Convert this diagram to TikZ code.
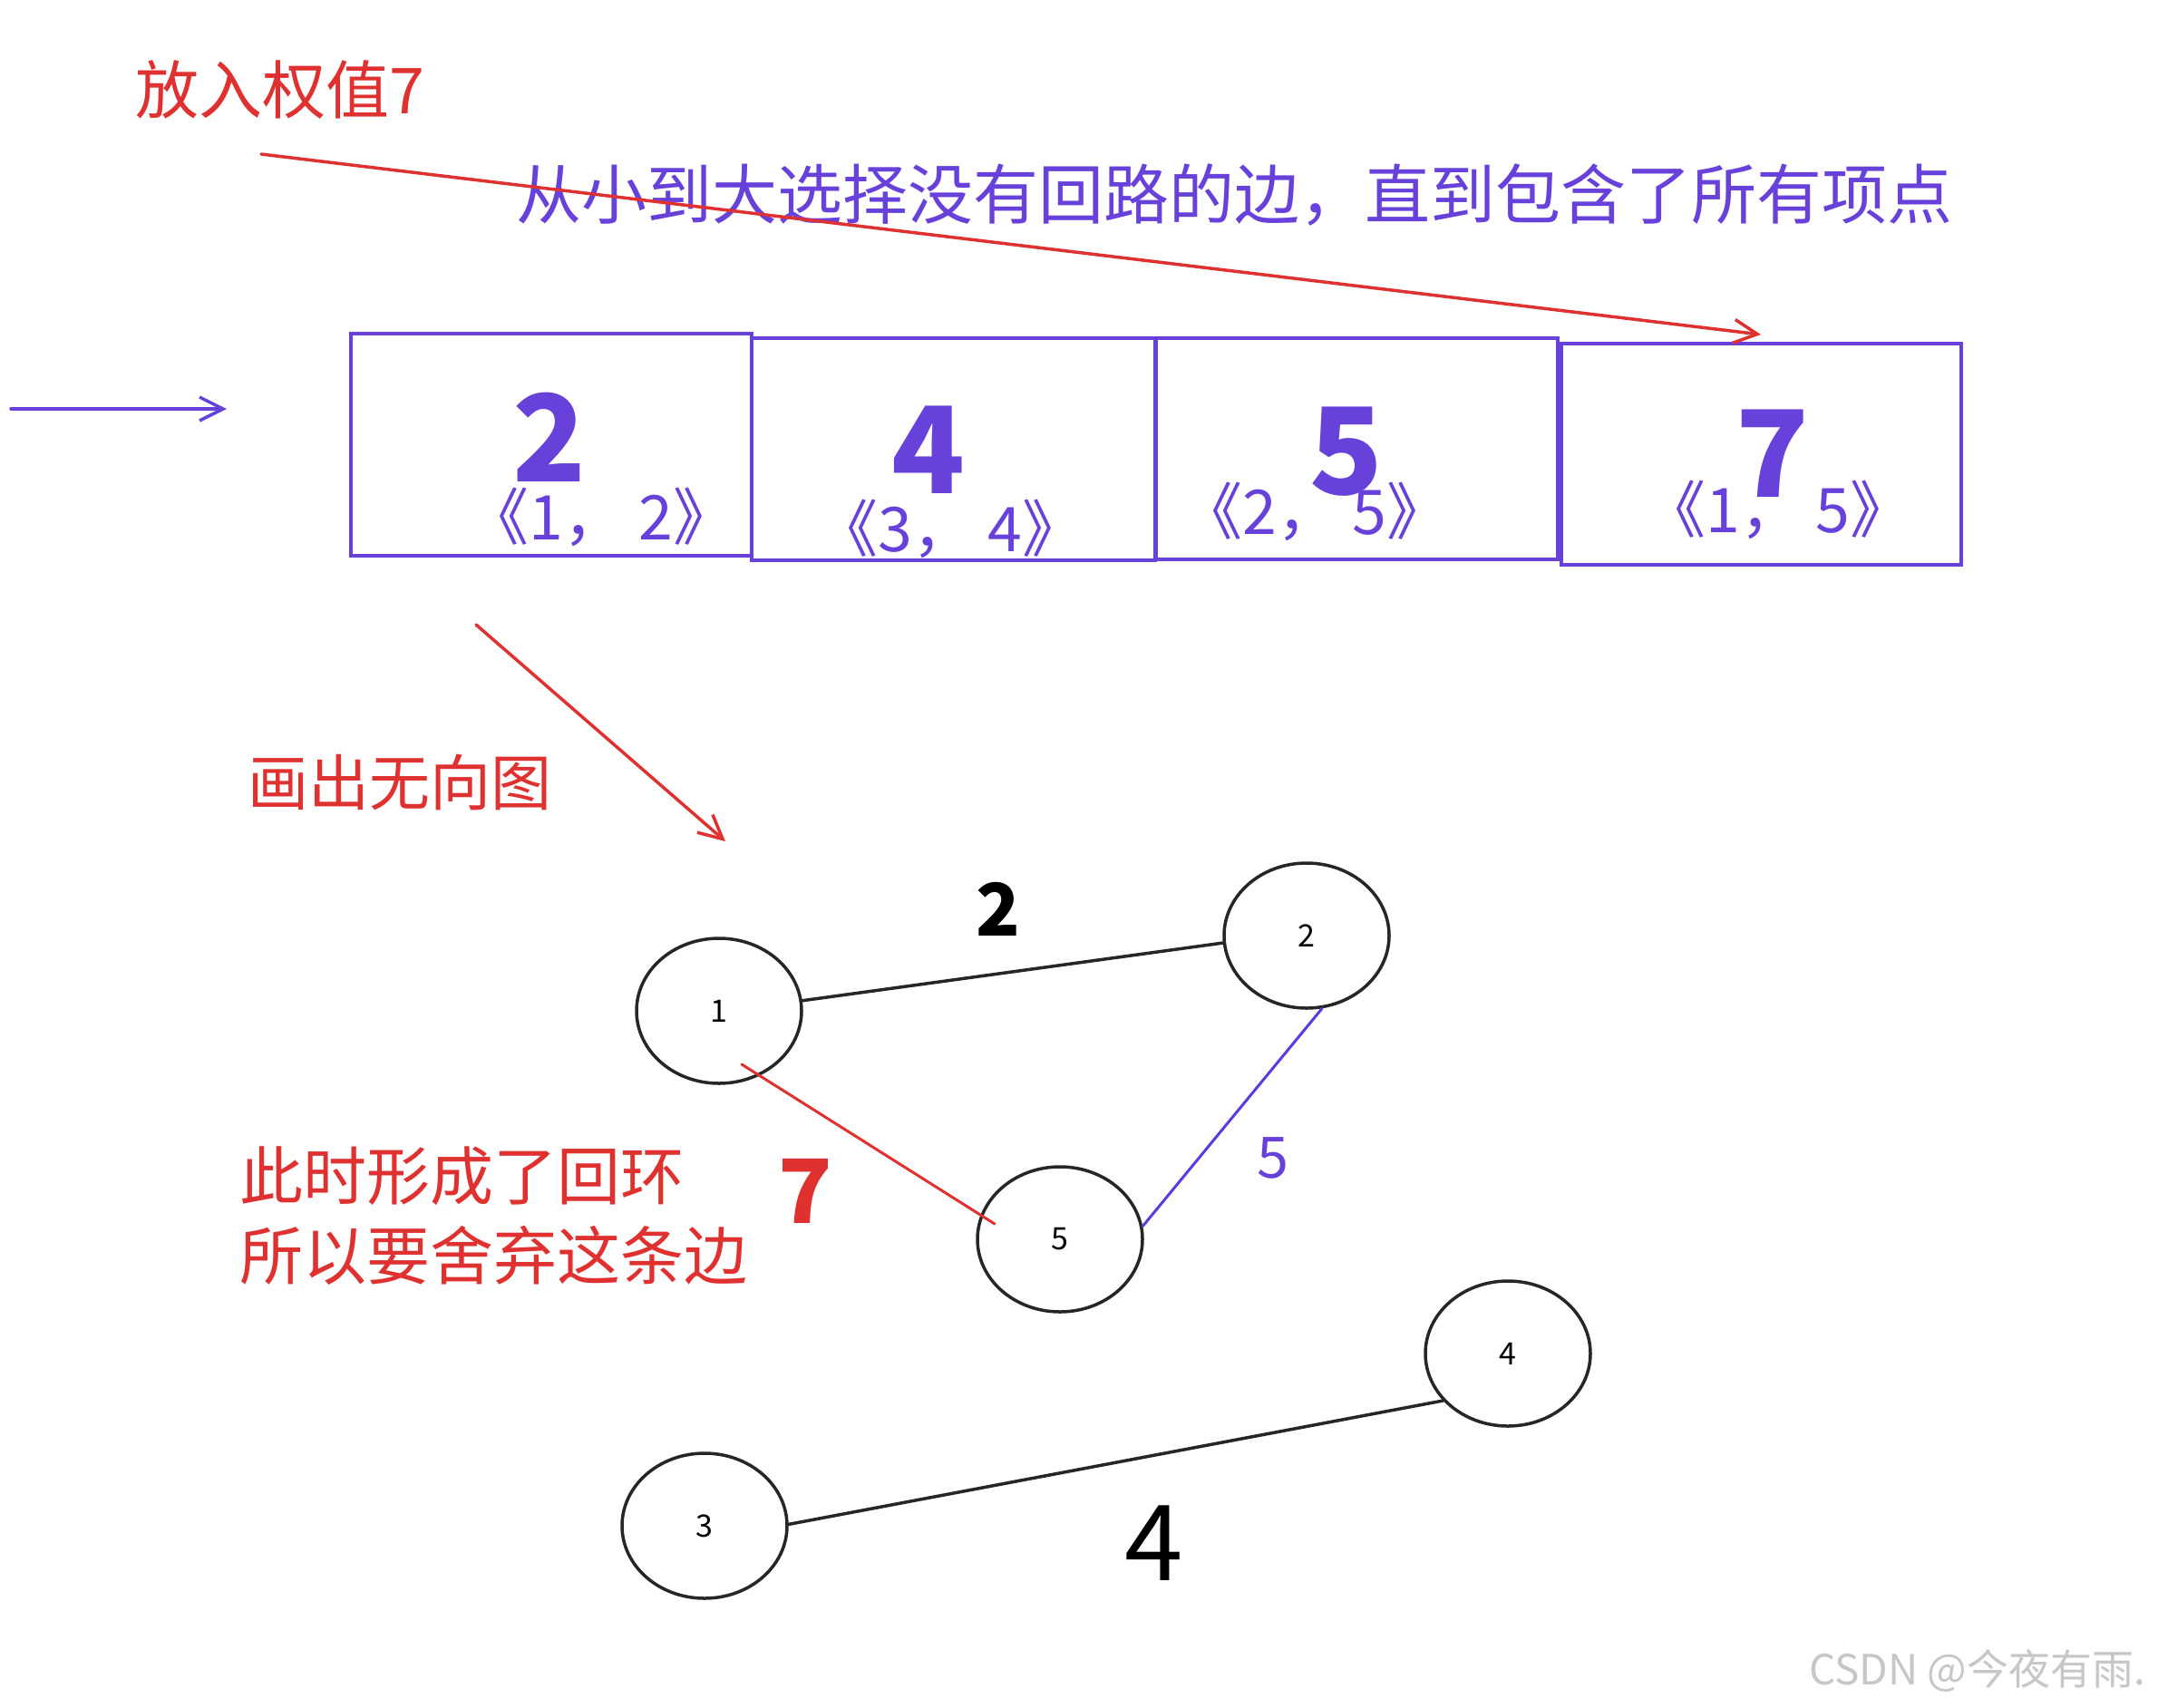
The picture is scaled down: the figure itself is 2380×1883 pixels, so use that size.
\documentclass[tikz,border=0pt]{standalone}
\usepackage{fontspec}
\setmainfont{Noto Sans CJK SC}
\usetikzlibrary{arrows.meta,shapes.geometric,calc}
\definecolor{vio}{HTML}{6741D9}
\definecolor{rd}{HTML}{E03131}
\newcommand\fsz[1]{\fontsize{#1}{#1}\selectfont}
\tikzset{
  cell/.style={draw=vio, line width=3.5pt, inner sep=0pt},
  vtx/.style={ellipse, draw=black!85, line width=3.5pt, minimum width=182pt, minimum height=160pt, inner sep=0pt, font=\fsz{34}},
  txt/.style={inner sep=0pt},
  barb/.style={-{Straight Barb[length=26pt,width=26pt]}},
  bignum/.style={txt, text=vio, font=\fsz{133}\bfseries},
  pairlbl/.style={txt, text=vio, font=\fsz{68}},
  edgeline/.style={line width=3.5pt, line cap=round},
}
\begin{document}
\begin{tikzpicture}[x=1pt,y=-1pt]
\fill[white] (0,0) rectangle (2380,1883);
\useasboundingbox (0,0) rectangle (2380,1883);

% top texts
\node[txt, text=rd, font=\fsz{70}] (t1) at (309,99) {放入权值7};
\node[txt, text=vio, font=\fsz{72}] (t2) at (1361,215) {从小到大选择没有回路的边，直到包含了所有项点};

% boxes
\node[cell, minimum width=442pt, minimum height=245pt] (b1) at (608,490.5) {};
\node[cell, minimum width=445pt, minimum height=245pt] (b2) at (1051.5,495.5) {};
\node[cell, minimum width=443pt, minimum height=244pt] (b3) at (1496.5,495) {};
\node[cell, minimum width=441pt, minimum height=244pt] (b4) at (1942.5,501) {};

\node[bignum] (v1) at (606,482) {2};
\node[bignum] (v2) at (1024,496) {4};
\node[bignum] (v3) at (1485,498) {5};
\node[bignum] (v4) at (1955,500) {7};

\node[pairlbl] (p1) at (663,570) {《1， 2》};
\node[pairlbl] (p2) at (1048,583) {《3， 4》};
\node[pairlbl] (p3) at (1450,564) {《2， 5》};
\node[pairlbl] (p4) at (1961,562) {《1， 5》};

% arrows
\coordinate (ra0) at (288,170);
\coordinate (ra1) at (1942,369);
\draw[rd, edgeline, barb] (ra0) -- (ra1);
\coordinate (ba0) at (12,451);
\coordinate (ba1) at (250,451);
\draw[vio, edgeline, barb] (ba0) -- (ba1);
\coordinate (rb0) at (525,689);
\coordinate (rb1) at (800,928);
\draw[rd, edgeline, barb] (rb0) -- (rb1);

\node[txt, text=rd, font=\fsz{67}] (t3) at (441,863) {画出无向图};

% graph
\node[vtx] (n1) at (793,1115) {1};
\node[vtx] (n2) at (1441,1032) {2};
\node[vtx] (n5) at (1169,1367) {5};
\node[vtx] (n4) at (1663,1493) {4};
\node[vtx] (n3) at (777,1683) {3};

\draw[edgeline, black!85] (n1.7) -- (n2.185);
\draw[edgeline, rd, line width=3pt] ($(n1)+(25,59)$) -- ($(n5)+(-72,-17)$);
\draw[edgeline, vio!90!blue, line width=3pt] (n2.-78) -- (n5.9);
\draw[edgeline, black!85] (n3.1) -- (n4.216);

\node[txt, font=\fsz{80}\bfseries] (w12) at (1101,1003) {2};
\node[txt, text=vio, font=\fsz{63}] (w25) at (1404,1277) {5};
\node[txt, text=rd, font=\fsz{98}\bfseries] (w15) at (888,1314) {7};
\node[txt, font=\fsz{116}] (w34) at (1273,1702) {4};

\node[txt, text=rd, font=\fsz{70}, align=left, anchor=west] (t4) at (264,1341)
  {此时形成了回环\\[18pt]所以要舍弃这条边};

\node[txt, text=black!22, font=\fsz{46}, anchor=west] (wm) at (1995,1843) {CSDN @今夜有雨.};
\end{tikzpicture}
\end{document}
